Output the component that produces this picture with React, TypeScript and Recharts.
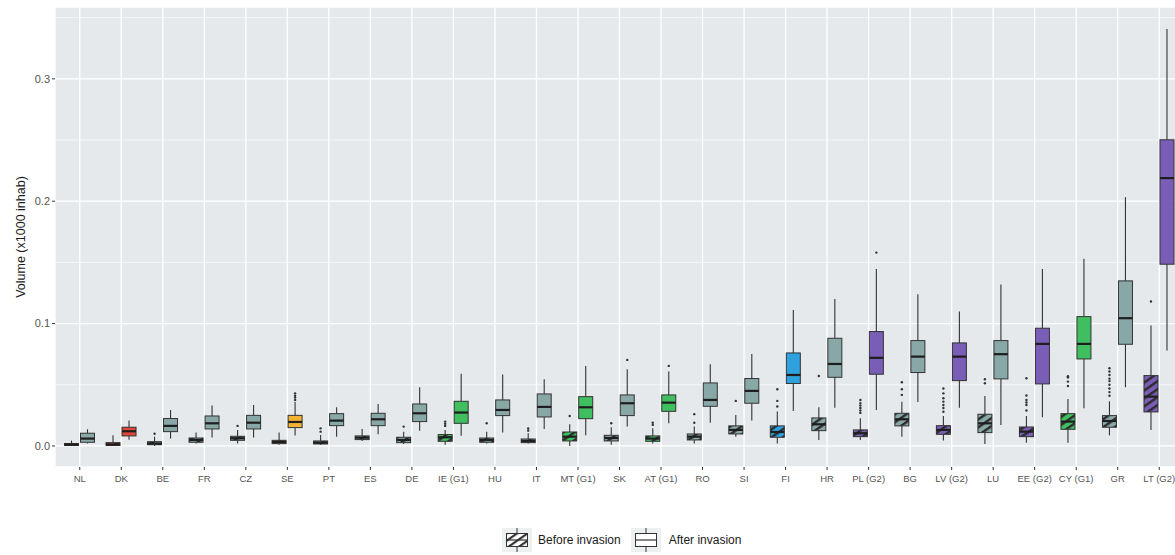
import { ComposedChart, Bar, XAxis, YAxis, CartesianGrid, Label } from "recharts";

const countries = [
  "NL", "DK", "BE", "FR", "CZ", "SE", "PT", "ES", "DE", "IE (G1)", "HU", "IT", "MT (G1)", "SK",
  "AT (G1)", "RO", "SI", "FI", "HR", "PL (G2)", "BG", "LV (G2)", "LU", "EE (G2)", "CY (G1)", "GR", "LT (G2)",
];

// colour group per country
const groups = [
  "base", "dk", "base", "base", "base", "se", "base", "base", "base", "g1", "base", "base", "g1", "base",
  "g1", "base", "base", "fi", "base", "g2", "base", "g2", "base", "g2", "g1", "base", "g2",
];

const groupColors: Record<string, string> = {
  base: "#88a7a7",
  dk: "#e0463a",
  se: "#f2b233",
  g1: "#3fbf5f",
  fi: "#2ea2de",
  g2: "#7a5db6",
};

// before invasion: [min, q1, median, q3, max]
const beforeStats = [
  [0, 0.0005, 0.001, 0.002, 0.0044],
  [0, 0.0004, 0.0012, 0.0027, 0.0087],
  [0, 0.001, 0.002, 0.0035, 0.0076],
  [0.002, 0.003, 0.0049, 0.0065, 0.011],
  [0.002, 0.0046, 0.0063, 0.0079, 0.013],
  [0.001, 0.0019, 0.0033, 0.0046, 0.011],
  [0.001, 0.0016, 0.0027, 0.0041, 0.009],
  [0.004, 0.0052, 0.0068, 0.0082, 0.0139],
  [0.0016, 0.0027, 0.0049, 0.0071, 0.0117],
  [0.001, 0.0038, 0.0071, 0.0093, 0.013],
  [0.002, 0.003, 0.0049, 0.0065, 0.0117],
  [0.002, 0.0027, 0.0041, 0.0057, 0.0104],
  [0, 0.0041, 0.0076, 0.0114, 0.0177],
  [0.001, 0.0041, 0.0065, 0.0087, 0.0153],
  [0.002, 0.0038, 0.006, 0.0082, 0.0144],
  [0.002, 0.0049, 0.0076, 0.0098, 0.0158],
  [0.0076, 0.0098, 0.0131, 0.0164, 0.0253],
  [0.002, 0.0071, 0.0114, 0.0164, 0.0281],
  [0.0049, 0.0125, 0.0177, 0.0229, 0.0316],
  [0.0049, 0.0076, 0.0104, 0.0131, 0.0226],
  [0.0076, 0.0164, 0.0218, 0.0267, 0.0362],
  [0.0044, 0.0095, 0.0131, 0.0166, 0.0245],
  [0.0016, 0.0109, 0.0185, 0.0259, 0.0409],
  [0.0027, 0.0076, 0.0117, 0.0155, 0.0245],
  [0.0027, 0.0136, 0.0199, 0.0264, 0.0384],
  [0.0087, 0.0153, 0.0204, 0.0248, 0.0365],
  [0.0131, 0.0278, 0.0403, 0.0575, 0.0984],
];

const beforeOutliers = [
  [], [], [0.01], [], [0.0164], [], [0.0117, 0.0144], [], [0.0158], [0.0164, 0.0182, 0.0199],
  [0.0185], [0.0125, 0.0142], [0.0245], [0.0185], [0.0172, 0.019], [0.019, 0.026], [0.0368],
  [0.0322, 0.0368, 0.0463], [0.0572], [0.027, 0.029, 0.031, 0.033, 0.035, 0.0376],
  [0.0417, 0.0463, 0.052], [0.028, 0.031, 0.0335, 0.0362, 0.039, 0.043, 0.047], [0.0512, 0.0545],
  [0.029, 0.0335, 0.0355, 0.0376, 0.0412, 0.0553], [0.049, 0.0526, 0.056, 0.057],
  [0.041, 0.044, 0.047, 0.05, 0.053, 0.055, 0.058, 0.0608, 0.0635], [0.118],
];

// after invasion: [min, q1, median, q3, max]
const afterStats = [
  [0.002, 0.003, 0.006, 0.0104, 0.0136],
  [0.005, 0.0082, 0.012, 0.0153, 0.0207],
  [0.006, 0.0117, 0.0164, 0.0224, 0.0294],
  [0.007, 0.0139, 0.0185, 0.0245, 0.033],
  [0.007, 0.0139, 0.019, 0.025, 0.0335],
  [0.0085, 0.015, 0.0196, 0.025, 0.036],
  [0.0076, 0.0166, 0.0207, 0.0264, 0.0316],
  [0.0095, 0.0166, 0.0218, 0.0267, 0.0343],
  [0.0125, 0.0199, 0.0267, 0.0343, 0.048],
  [0.0084, 0.0185, 0.0273, 0.0365, 0.0589],
  [0.0109, 0.0248, 0.0294, 0.0376, 0.0583],
  [0.0139, 0.0237, 0.0319, 0.0425, 0.0545],
  [0.0087, 0.0223, 0.0316, 0.0403, 0.0654],
  [0.0158, 0.0248, 0.0349, 0.0417, 0.0627],
  [0.0185, 0.0283, 0.0354, 0.0417, 0.0608],
  [0.019, 0.0324, 0.0376, 0.0515, 0.0668],
  [0.0207, 0.0349, 0.045, 0.0551, 0.0752],
  [0.0286, 0.051, 0.058, 0.076, 0.111],
  [0.0313, 0.0561, 0.067, 0.088, 0.12],
  [0.0294, 0.0586, 0.072, 0.0935, 0.1445],
  [0.036, 0.06, 0.073, 0.0861, 0.124],
  [0.0313, 0.0534, 0.073, 0.0842, 0.1098],
  [0.0172, 0.0548, 0.075, 0.0861, 0.132],
  [0.0234, 0.0507, 0.0834, 0.0962, 0.1445],
  [0.0308, 0.0711, 0.0834, 0.1057, 0.153],
  [0.048, 0.0831, 0.1044, 0.1349, 0.2033],
  [0.078, 0.1485, 0.2189, 0.2502, 0.3407],
];

const afterOutliers = [
  [], [], [], [], [], [0.0376, 0.0395, 0.041, 0.043], [], [], [], [], [], [], [], [0.0703], [0.0654],
  [], [], [], [], [0.158], [], [], [], [], [], [], [],
];

const yTicks = [0, 0.1, 0.2, 0.3];
const minorTicks = [0.05, 0.15, 0.25, 0.35];

const data = countries.map((country, i) => ({
  country,
  group: groups[i],
  before: beforeStats[i],
  beforeOut: beforeOutliers[i],
  after: afterStats[i],
  afterOut: afterOutliers[i],
}));

const EDGE = "#333333";

function makeBox(key: "before" | "after", hatched: boolean) {
  return (props: any) => {
    const { x, y, width, height, payload } = props;
    const [mn, q1, med, q3, mx] = payload[key] as number[];
    const outs = payload[key + "Out"] as number[];
    const top = Math.min(y, y + height);
    const bottom = Math.max(y, y + height);
    const ppu = (bottom - top) / (mx - mn);
    const py = (v: number) => bottom - (v - mn) * ppu;
    const cx = x + width / 2;
    const color = groupColors[payload.group];
    const fill = hatched ? `url(#hatch-${payload.group})` : color;
    const bx = x + 0.5;
    const bw = width - 1;
    return (
      <g>
        <line x1={cx} x2={cx} y1={py(mx)} y2={py(q3)} stroke={EDGE} strokeWidth={1.1} />
        <line x1={cx} x2={cx} y1={py(q1)} y2={py(mn)} stroke={EDGE} strokeWidth={1.1} />
        <rect x={bx} y={py(q3)} width={bw} height={Math.max(py(q1) - py(q3), 0.5)} fill={fill} stroke={EDGE} strokeWidth={1} />
        <line x1={bx} x2={bx + bw} y1={py(med)} y2={py(med)} stroke="#1e1e1e" strokeWidth={2.2} />
        {outs.map((o, j) => (
          <circle key={j} cx={cx} cy={py(o)} r={1.2} fill={EDGE} />
        ))}
      </g>
    );
  };
}

function YTitle(props: any) {
  const vb = props.viewBox || { y: 7, height: 460 };
  const cy = vb.y + vb.height / 2;
  return (
    <text x={21} y={cy} transform={`rotate(-90, 21, ${cy})`} textAnchor="middle" dominantBaseline="central"
      fontSize={12.5} fill="#1a1a1a" fontFamily="'Liberation Sans', Arial, sans-serif">
      Volume (x1000 inhab)
    </text>
  );
}

function LegendKey({ hatched }: { hatched: boolean }) {
  return (
    <svg width={30} height={24}>
      <defs>
        <pattern id="legend-hatch" patternUnits="userSpaceOnUse" width={6} height={6} patternTransform="rotate(-35)">
          <rect width={6} height={6} fill="#ffffff" />
          <rect width={6} height={2.2} fill="#333333" />
        </pattern>
      </defs>
      <rect width={30} height={24} fill="#edf0f1" />
      <line x1={15} x2={15} y1={0} y2={24} stroke={EDGE} strokeWidth={1} />
      <rect x={4.5} y={5.5} width={21} height={13} fill={hatched ? "url(#legend-hatch)" : "#ffffff"} stroke={EDGE} strokeWidth={1} />
      <line x1={4.5} x2={25.5} y1={12} y2={12} stroke={EDGE} strokeWidth={1.2} />
    </svg>
  );
}

export default function App() {
  const font = "'Liberation Sans', Arial, sans-serif";
  return (
    <div style={{ position: "absolute", left: 0, top: 0, width: 1175, height: 555, overflow: "hidden", background: "#fff", fontFamily: font }}>
      <ComposedChart
        width={1200}
        height={555}
        data={data}
        margin={{ top: 7, right: 16, bottom: 58, left: 0 }}
        barSize={15}
        barGap={1}
      >
        <defs>
          {Object.keys(groupColors).map((g) => (
            <pattern key={g} id={`hatch-${g}`} patternUnits="userSpaceOnUse" width={6.5} height={6.5} patternTransform="rotate(-35)">
              <rect width={6.5} height={6.5} fill={groupColors[g]} />
              <rect width={6.5} height={2.4} fill="#2b2b2b" />
            </pattern>
          ))}
        </defs>
        <CartesianGrid fill="#e5e9eb" stroke="#ffffff" strokeWidth={0.6} vertical={false} horizontalValues={minorTicks} />
        <CartesianGrid stroke="#ffffff" strokeWidth={1.3} />
        <XAxis
          dataKey="country"
          type="category"
          interval={0}
          padding={{ left: 4, right: 4 }}
          height={30}
          axisLine={false}
          tickLine={{ stroke: EDGE }}
          tickSize={3}
          tickMargin={5}
          tick={{ fontSize: 9.5, fill: "#555555", fontFamily: font }}
        />
        <YAxis
          type="number"
          domain={[-0.0172, 0.3587]}
          ticks={yTicks}
          width={55}
          axisLine={false}
          tickLine={{ stroke: EDGE }}
          tickSize={3}
          tickMargin={2}
          tickFormatter={(v: number) => v.toFixed(1)}
          tick={{ fontSize: 11, fill: "#555555", fontFamily: font }}
        >
          <Label content={<YTitle />} />
        </YAxis>
        <Bar dataKey={(d: any) => [d.before[0], d.before[4]]} shape={makeBox("before", true)} isAnimationActive={false} />
        <Bar dataKey={(d: any) => [d.after[0], d.after[4]]} shape={makeBox("after", false)} isAnimationActive={false} />
      </ComposedChart>
      <div style={{ position: "absolute", left: 502, top: 528, display: "flex", alignItems: "center", fontSize: 12, color: "#1a1a1a" }}>
        <LegendKey hatched={true} />
        <span style={{ marginLeft: 6, marginRight: 10 }}>Before invasion</span>
        <LegendKey hatched={false} />
        <span style={{ marginLeft: 8 }}>After invasion</span>
      </div>
    </div>
  );
}
